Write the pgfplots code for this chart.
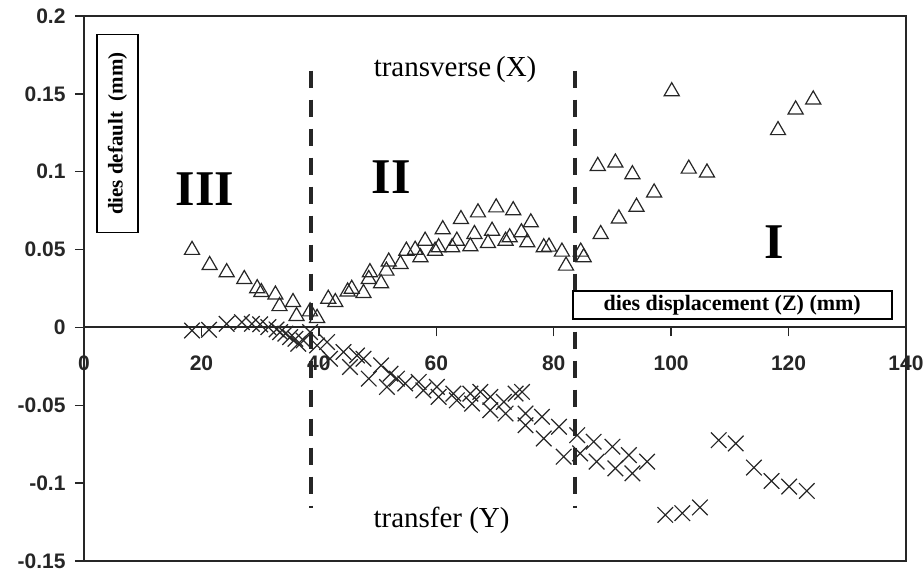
\documentclass[border=0pt]{standalone}
\usepackage{pgfplots}
\pgfplotsset{compat=1.18}
\usepackage{fontspec}
\setmainfont{Liberation Serif}
\setsansfont{Liberation Sans}

% transverse (X) deformation of the dies
\pgfplotstableread{
z      d
18.4   0.0497
21.4   0.0400
24.3   0.0354
27.3   0.0310
29.5   0.0251
30.2   0.0226
32.6   0.0210
33.3   0.0136
35.6   0.0162
36.2   0.0072
38.5   0.0102
39.7   0.0060
41.6   0.0183
42.8   0.0162
44.9   0.0230
45.6   0.0247
47.6   0.0220
48.5   0.0310
48.7   0.0354
50.6   0.0283
51.5   0.0364
51.9   0.0422
53.9   0.0407
54.9   0.0492
56.4   0.0498
57.3   0.0450
58.1   0.0556
59.8   0.0492
60.4   0.0514
61.1   0.0630
62.7   0.0514
63.5   0.0556
64.2   0.0695
65.8   0.0520
66.5   0.0599
67.1   0.0738
68.8   0.0541
69.5   0.0620
70.2   0.0770
71.8   0.0556
72.5   0.0578
73.1   0.0752
74.5   0.0610
75.5   0.0546
76.1   0.0674
78.3   0.0514
79.2   0.0518
81.4   0.0486
82.1   0.0396
84.6   0.0486
85.1   0.0450
87.5   0.1036
88.0   0.0599
90.5   0.1058
91.1   0.0699
93.4   0.0983
94.1   0.0774
97.1   0.0866
100.1  0.1516
103.0  0.1019
106.1  0.0994
118.2  0.1266
121.2  0.1399
124.2  0.1463
}\transverse

% transfer (Y) deformation of the dies
\pgfplotstableread{
z      d
18.4  -0.0020
21.3  -0.0015
24.3   0.0023
26.9   0.0034
28.6   0.0023
30.0   0.0020
31.4   0.0002
32.8  -0.0013
33.4  -0.0030
34.3  -0.0040
35.1  -0.0062
36.0  -0.0073
36.5  -0.0105
37.4  -0.0084
38.5  -0.0030
39.7  -0.0116
41.4  -0.0094
41.9  -0.0201
44.2  -0.0158
45.3  -0.0254
46.5  -0.0180
47.6  -0.0201
48.5  -0.0329
50.6  -0.0244
51.6  -0.0382
52.2  -0.0297
53.3  -0.0329
54.7  -0.0360
57.0  -0.0350
57.8  -0.0404
60.1  -0.0382
60.4  -0.0446
62.9  -0.0425
63.5  -0.0468
65.8  -0.0425
66.1  -0.0489
67.5  -0.0414
69.2  -0.0446
69.2  -0.0532
71.5  -0.0478
71.8  -0.0553
73.5  -0.0425
74.6  -0.0414
75.2  -0.0553
75.2  -0.0628
78.0  -0.0574
78.3  -0.0713
80.9  -0.0638
81.7  -0.0830
84.0  -0.0692
84.5  -0.0809
86.8  -0.0734
87.3  -0.0862
90.0  -0.0766
90.5  -0.0905
92.8  -0.0820
93.4  -0.0937
95.9  -0.0862
99.0  -0.1204
101.9 -0.1193
104.9 -0.1156
108.1 -0.0724
111.0 -0.0745
114.1 -0.0900
117.1 -0.0986
120.1 -0.1022
123.1 -0.1050
}\transfer

\begin{document}
\begin{tikzpicture}
\begin{axis}[
  at={(84pt,10pt)}, anchor=south west,
  scale only axis, width=822pt, height=545pt,
  xmin=0, xmax=140, ymin=-0.15, ymax=0.2,
  axis x line*=middle, axis y line*=left,
  axis line style={line width=2pt, black!85},
  clip=false,
  hide obscured x ticks=false, hide obscured y ticks=false,
  xtick={0,20,...,140}, xticklabels={0,20,40,60,80,100,120,140},
  ytick={-0.15,-0.1,-0.05,0,0.05,0.1,0.15,0.2},
  yticklabels={-0.15,-0.1,-0.05,0,0.05,0.1,0.15,0.2},
  tick align=outside, major tick length=9pt,
  tick style={line width=1.5pt, black!85},
  tick label style={font=\fontsize{21}{21}\selectfont\sffamily\bfseries, text=black!85},
  xticklabel style={yshift=-16pt},
  yticklabel style={xshift=-6pt},
]
% frame of the plot area
\draw[line width=2pt, black!85] (rel axis cs:0,0) rectangle (rel axis cs:1,1);

% zone boundaries
\addplot[black!85, line width=4pt, dash pattern=on 17pt off 12pt]
  coordinates {(38.6,0.165) (38.6,-0.116)};
\addplot[black!85, line width=4pt, dash pattern=on 17pt off 12pt]
  coordinates {(83.7,0.165) (83.7,-0.116)};

\addplot[only marks, mark=x, mark size=11pt, black!85,
  mark options={line width=1.2pt}] table[x=z, y=d] {\transfer};
\addplot[only marks, mark=triangle, mark size=8.7pt, black!85,
  mark options={line width=1.2pt}] table[x=z, y=d] {\transverse};

% annotations
\node[draw, line width=1.8pt, rotate=90, minimum width=198pt, minimum height=41pt,
  inner sep=0pt, font=\fontsize{21}{21}\selectfont\bfseries]
  at (axis cs:5.71,0.1245) {dies default\ \ (mm)};
\node[draw, line width=1.8pt, minimum width=319pt, minimum height=28pt,
  inner sep=0pt, fill=white, font=\fontsize{22}{22}\selectfont\bfseries]
  at (axis cs:110.4,0.0145) {dies displacement (Z) (mm)};
\node[font=\fontsize{50}{50}\selectfont\bfseries] at (axis cs:20.6,0.0887) {III};
\node[font=\fontsize{50}{50}\selectfont\bfseries] at (axis cs:52.3,0.0964) {II};
\node[font=\fontsize{50}{50}\selectfont\bfseries] at (axis cs:117.6,0.0548) {I};
\node[font=\fontsize{29}{29}\selectfont] at (axis cs:63.2,0.1654) {transverse\,(X)};
\node[font=\fontsize{29}{29}\selectfont] at (axis cs:60.9,-0.1237) {transfer (Y)};
\end{axis}
\pgfresetboundingbox
\path[use as bounding box] (0,0) rectangle (923pt,571pt);
\end{tikzpicture}
\end{document}
